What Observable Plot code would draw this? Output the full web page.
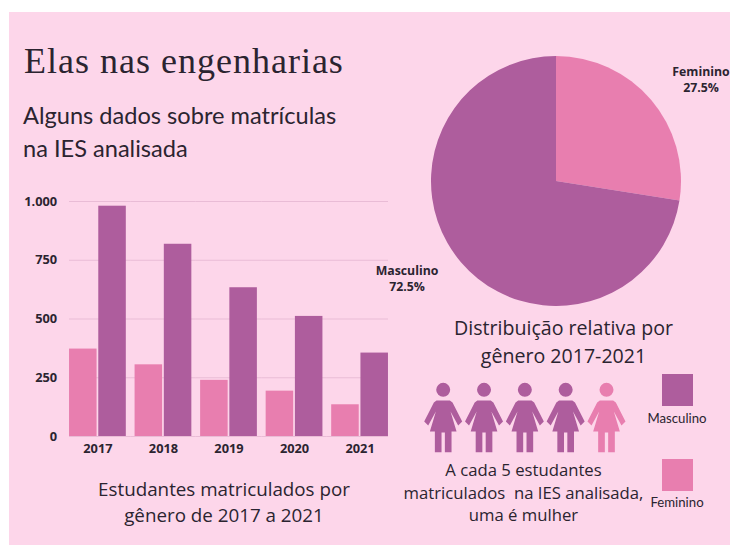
<!DOCTYPE html>
<html><head><meta charset="utf-8">
<script src="https://cdn.jsdelivr.net/npm/d3@7"></script>
<script src="https://cdn.jsdelivr.net/npm/@observablehq/plot@0.6"></script>
<style>
html,body{margin:0;padding:0;background:#fff;}
#stage{position:relative;width:730px;height:545px;overflow:hidden;background:#fff;}
#panel{position:absolute;left:9px;top:12px;width:721px;height:533px;background:#fdd6ea;}
#stage svg{position:absolute;background:transparent;}
.t{position:absolute;color:#2b2430;text-align:center;white-space:nowrap;font-family:Lato,sans-serif;}
.swatch{position:absolute;width:31px;height:32px;}
</style></head><body>
<div id="stage"><div id="panel"></div></div>
<script>
const years = ["2017","2018","2019","2020","2021"];
const genders = ["Feminino","Masculino"];
const femaleEnrolled = [372,305,239,193,135];
const maleEnrolled = [980,818,633,511,355];
const yTicks = [0,250,500,750,1000];
const pieShares = [27.5,72.5];
const people = ["Masculino","Masculino","Masculino","Masculino","Feminino"];
const colors = ["#e87eaf","#ae5d9d"];
const ink = "#2b2430";

const stage = document.getElementById("stage");
const bars = [
  ...years.map((year,i)=>({year,gender:genders[0],value:femaleEnrolled[i]})),
  ...years.map((year,i)=>({year,gender:genders[1],value:maleEnrolled[i]}))
];
const br = d3.formatLocale({decimal:",",thousands:".",grouping:[3],currency:["R$",""]}).format(",d");
const colorScale = {domain:genders,range:colors};
const gridFor = ys => ys.flatMap(year => yTicks.map(tick => ({year,tick})));
const gridStyle = {fx:"year",y:"tick",stroke:"#e9bcd6",strokeWidth:1};

const chart = Plot.plot({
  width:730,height:545,
  marginLeft:64.65,marginRight:337.65,marginTop:201,marginBottom:109,
  style:{background:"transparent",fontFamily:"'Open Sans',sans-serif"},
  fx:{domain:years,padding:0,round:false,label:null},
  x:{domain:genders,paddingInner:0.0586,paddingOuter:0.15,round:false,axis:null},
  y:{domain:[0,1000],label:null},
  color:colorScale,
  marks:[
    Plot.ruleY(gridFor(years.slice(0,1)),{...gridStyle,insetLeft:4.35}),
    Plot.ruleY(gridFor(years.slice(1,-1)),gridStyle),
    Plot.ruleY(gridFor(years.slice(-1)),{...gridStyle,insetRight:4.35}),
    Plot.barY(bars,{fx:"year",x:"gender",y:"value",fill:"gender"}),
    Plot.axisY(yTicks,{tickFormat:br,tickSize:0,tickPadding:8,fontSize:12.8,fontWeight:700,fill:ink,label:null}),
    Plot.axisFx({anchor:"bottom",tickSize:0,tickPadding:7,fontSize:12.8,fontWeight:700,fill:ink,label:null})
  ]
});
chart.style.left="0";chart.style.top="0";
stage.appendChild(chart);

const pieRows = genders.map((gender,i)=>({gender,share:pieShares[i]}));
const pie = Plot.plot({
  width:250,height:250,margin:0,
  style:{background:"transparent"},
  x:{axis:null},
  y:{domain:[0,100],range:[0,2*Math.PI],axis:null},
  color:colorScale,
  marks:[
    Plot.barY(pieRows,Plot.stackY({order:null,y:"share",fill:"gender",
      render(index,scales,values,dim){
        const arc=d3.arc().innerRadius(0).outerRadius(dim.width/2);
        const g=d3.create("svg:g").attr("transform",`translate(${dim.width/2},${dim.height/2})`);
        for(const i of index){
          g.append("path")
           .attr("d",arc({startAngle:values.y1[i],endAngle:values.y2[i]}))
           .attr("fill",values.fill?values.fill[i]:colors[i]);
        }
        return g.node();
      }}))
  ]
});
pie.style.left="431px";pie.style.top="56px";
stage.appendChild(pie);

const person = {draw(c){
  const k=1/3;
  const pts=[[-20,-51],[20,-51],[28,-45],[57,12],[45,24],[22,-18],[40,42],[25,42],[25,104],[5,104],[5,45],[-5,45],[-5,104],[-25,104],[-25,42],[-40,42],[-22,-18],[-45,24],[-57,12],[-28,-45]];
  pts.forEach(([x,y],i)=> i? c.lineTo(x*k,y*k):c.moveTo(x*k,y*k));
  c.closePath();
  c.moveTo(21*k,-83*k);
  c.arc(0,-83*k,21*k,0,2*Math.PI);
  c.closePath();
}};
const pictoRows = people.map((gender,i)=>({i,gender}));
const picto = Plot.plot({
  width:210,height:80,margin:0,
  style:{background:"transparent"},
  x:{type:"point",domain:d3.range(people.length),range:[22.7,186],padding:0,round:false,axis:null},
  color:colorScale,
  marks:[Plot.dot(pictoRows,{x:"i",fill:"gender",symbol:person,stroke:"none"})]
});
picto.style.left="420px";picto.style.top="377px";
stage.appendChild(picto);

function text(html,x,y,size,opt={}){
  const d=document.createElement("div");d.className="t";d.innerHTML=html;
  d.style.left=x+"px";d.style.top=y+"px";d.style.fontSize=size+"px";
  d.style.transform=opt.left?"none":"translateX(-50%)";
  if(opt.left)d.style.textAlign="left";
  for(const k of ["fontFamily","fontWeight","lineHeight","letterSpacing"]) if(opt[k])d.style[k]=opt[k];
  stage.appendChild(d);
}
function swatch(color,x,y){const d=document.createElement("div");d.className="swatch";d.style.background=color;d.style.left=x+"px";d.style.top=y+"px";stage.appendChild(d);}

text("Elas nas engenharias",24,40,36,{left:true,fontFamily:"'Liberation Serif',serif",letterSpacing:"1px"});
text("Alguns dados sobre matrículas<br>na IES analisada",23,99,23.6,{left:true,lineHeight:"33px"});
text("Estudantes matriculados por<br>gênero de 2017 a 2021",224,476,18.8,{fontFamily:"'Open Sans',sans-serif",lineHeight:"26px"});
text("Distribuição relativa por<br>gênero 2017-2021",563.5,314,19.6,{fontFamily:"'Open Sans',sans-serif",lineHeight:"28px"});
text("A cada 5 estudantes<br>matriculados&nbsp; na IES analisada,<br>uma é mulher",523.5,459,16.7,{fontFamily:"'Open Sans',sans-serif",lineHeight:"22.5px"});
text("Feminino<br>27.5%",701,64,12.3,{fontWeight:"700",lineHeight:"16px",fontFamily:"'Open Sans',sans-serif"});
text("Masculino<br>72.5%",407,263,12.3,{fontWeight:"700",lineHeight:"16px",fontFamily:"'Open Sans',sans-serif"});
swatch(colors[1],662,374);
swatch(colors[0],662,459);
text("Masculino",677,410,13.2);
text("Feminino",677,494,13.2);
</script></body></html>
